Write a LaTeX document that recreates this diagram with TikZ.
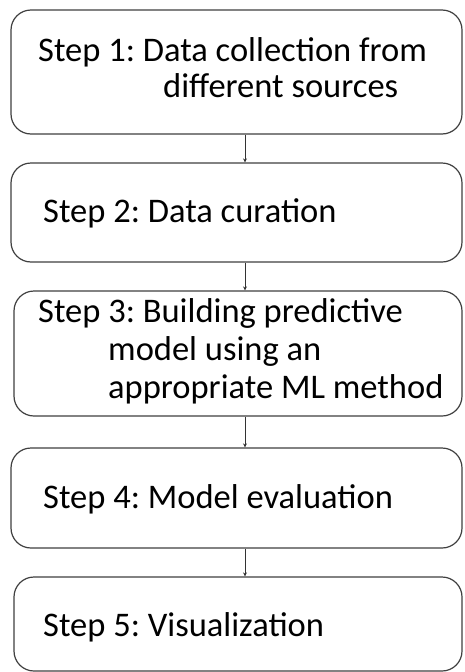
\documentclass[tikz,border=0pt]{standalone}
\usepackage{fontspec}
\setmainfont{Carlito}
\frenchspacing
\usepackage{tikz}
\usetikzlibrary{arrows.meta}

\begin{document}
\begin{tikzpicture}[x=1pt,y=-1pt,
	etape/.style={draw=black!75,line width=1.2pt,rounded corners=20pt,fill=white,inner sep=0pt},
	texte/.style={anchor=base west,inner sep=0pt,font=\fontsize{34.5}{40}\selectfont},
	fleche/.style={draw=black!80,line width=0.9pt,-{Stealth[length=4pt,width=4pt]}}]
	%
	% Cadre de la figure
	\useasboundingbox[fill=white] (0,0) rectangle (464,672);
	%
	% Boites
	\node[etape,minimum width=451pt,minimum height=124pt] (b1) at (236.5,72) {};
	\node[etape,minimum width=451pt,minimum height=99pt] (b2) at (236.5,212.5) {};
	\node[etape,minimum width=448pt,minimum height=125pt] (b3) at (238,353.5) {};
	\node[etape,minimum width=451pt,minimum height=100pt] (b4) at (236.5,498) {};
	\node[etape,minimum width=448pt,minimum height=94pt] (b5) at (238,624) {};
	%
	% Textes
	\node[texte] (t1a) at (38,61) {Step 1: Data collection from};
	\node[texte] (t1b) at (163,97) {different sources};
	\node[texte] (t2) at (43,222) {Step 2: Data curation};
	\node[texte] (t3a) at (38,322) {Step 3: Building predictive};
	\node[texte] (t3b) at (108,360) {model using an};
	\node[texte] (t3c) at (108,398) {appropriate ML method};
	\node[texte] (t4) at (43,508) {Step 4: Model evaluation};
	\node[texte] (t5) at (43,636) {Step 5: Visualization};
	%
	% Fleches
	\draw[fleche] ([xshift=8.5pt]b1.south) -- ([xshift=8.5pt]b2.north);
	\draw[fleche] ([xshift=8.5pt]b2.south) -- ([xshift=7pt]b3.north);
	\draw[fleche] ([xshift=7pt]b3.south) -- ([xshift=8.5pt]b4.north);
	\draw[fleche] ([xshift=8.5pt]b4.south) -- ([xshift=7pt]b5.north);
\end{tikzpicture}
\end{document}
